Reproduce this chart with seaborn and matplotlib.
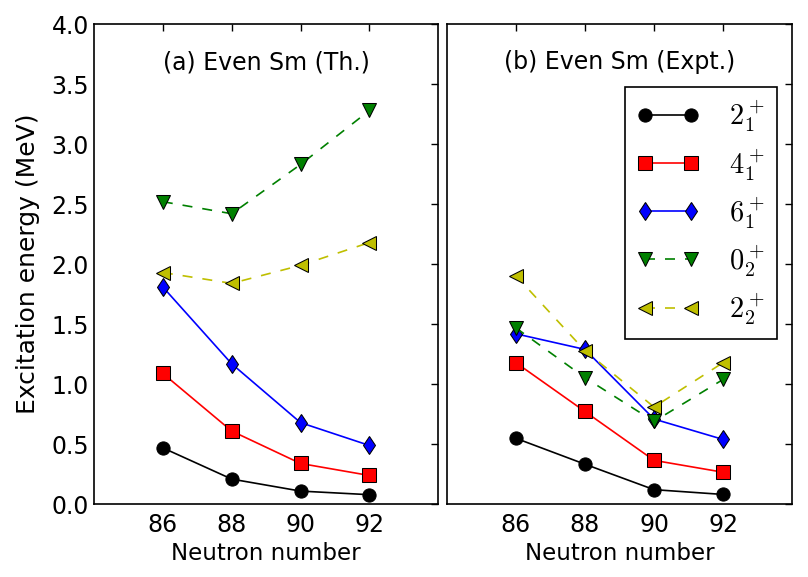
import matplotlib
matplotlib.use("Agg")
import matplotlib.pyplot as plt
import seaborn as sns
import pandas as pd

# ---- data ----
neutrons = [86, 88, 90, 92]
states = ["2_1", "4_1", "6_1", "0_2", "2_2"]
state_labels = [r"$2_1^+$", r"$4_1^+$", r"$6_1^+$", r"$0_2^+$", r"$2_2^+$"]

th_2_1 = [0.47, 0.21, 0.11, 0.08]
th_4_1 = [1.09, 0.61, 0.34, 0.24]
th_6_1 = [1.81, 1.17, 0.68, 0.49]
th_0_2 = [2.52, 2.42, 2.83, 3.28]
th_2_2 = [1.93, 1.84, 1.99, 2.18]

ex_2_1 = [0.55, 0.334, 0.122, 0.082]
ex_4_1 = [1.18, 0.773, 0.366, 0.267]
ex_6_1 = [1.42, 1.29, 0.71, 0.54]
ex_0_2 = [1.47, 1.055, 0.69, 1.04]
ex_2_2 = [1.905, 1.28, 0.81, 1.18]

panel_titles = ["(a) Even Sm (Th.)", "(b) Even Sm (Expt.)"]
x_ticks = [86, 88, 90, 92]
y_ticks = [0.0, 0.5, 1.0, 1.5, 2.0, 2.5, 3.0, 3.5, 4.0]

rows = []
for panel, series in (("th", [th_2_1, th_4_1, th_6_1, th_0_2, th_2_2]),
                      ("ex", [ex_2_1, ex_4_1, ex_6_1, ex_0_2, ex_2_2])):
    for st, vals in zip(states, series):
        for n, e in zip(neutrons, vals):
            rows.append({"panel": panel, "state": st, "N": n, "E": e})
df = pd.DataFrame(rows)

# ---- style ----
sns.set_style("white")
plt.rcParams["font.family"] = ["DejaVu Sans"]
plt.rcParams["mathtext.fontset"] = "cm"
plt.rcParams["text.color"] = "k"
plt.rcParams["axes.labelcolor"] = "k"
plt.rcParams["xtick.color"] = "k"
plt.rcParams["ytick.color"] = "k"

palette = {"2_1": "k", "4_1": "r", "6_1": "b", "0_2": "g", "2_2": "y"}
markers = {"2_1": "o", "4_1": "s", "6_1": "d", "0_2": "v", "2_2": "<"}
dashes = {"2_1": "", "4_1": "", "6_1": "", "0_2": (6, 6), "2_2": (6, 6)}

fig = plt.figure(figsize=(8.08, 5.77), dpi=100)
ax1 = fig.add_axes([0.1163, 0.126, 0.4261, 0.8324])
ax2 = fig.add_axes([0.5528, 0.126, 0.4277, 0.8324])

for ax, panel, title in ((ax1, "th", panel_titles[0]), (ax2, "ex", panel_titles[1])):
    sub = df[df["panel"] == panel]
    sns.lineplot(data=sub, x="N", y="E", hue="state", style="state",
                 hue_order=states, style_order=states,
                 palette=palette, markers=markers, dashes=dashes,
                 markersize=9.5, markeredgecolor="k", markeredgewidth=0.75,
                 linewidth=1.2, estimator=None, sort=False, legend=False, ax=ax)
    ax.set_xlim(84, 94)
    ax.set_ylim(0, 4.0)
    ax.set_xticks(x_ticks)
    ax.set_yticks(y_ticks)
    ax.tick_params(direction="in", top=True, right=True, length=5, width=1,
                   labelsize=17, colors="k")
    ax.tick_params(axis="x", pad=6)
    ax.tick_params(axis="y", pad=3.5)
    for sp in ax.spines.values():
        sp.set_color("k")
        sp.set_linewidth(1.2)
    ax.set_xlabel("Neutron number", fontsize=16.5, labelpad=4)
    ax.text(89, 3.625, title, ha="center", va="baseline", fontsize=17)

ax1.set_yticklabels([f"{v:.1f}" for v in y_ticks])
ax1.set_ylabel("Excitation energy (MeV)", fontsize=18, labelpad=8)
ax2.set_ylabel("")
ax2.tick_params(labelleft=False)

leg = ax2.legend(ax2.lines[:5], state_labels, loc="upper right",
                 bbox_to_anchor=(0.955, 0.869), borderaxespad=0,
                 numpoints=2, fontsize=20.5, handlelength=2.2,
                 labelspacing=0.44, fancybox=False, framealpha=1,
                 borderpad=0.42, handletextpad=1.05)
leg.get_frame().set_edgecolor("k")
leg.get_frame().set_linewidth(1.2)

fig.savefig("out.png", dpi=100)
